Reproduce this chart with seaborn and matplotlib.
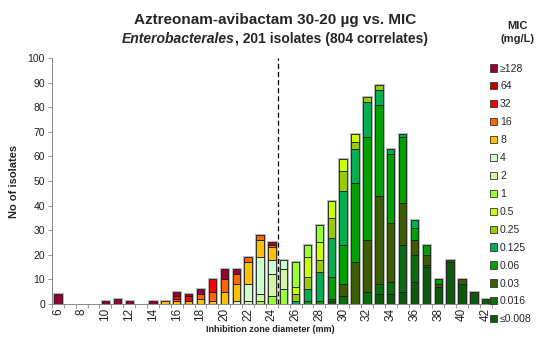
import matplotlib
matplotlib.use("Agg")
from matplotlib import pyplot as plt
from matplotlib.patches import Patch
import pandas as pd
import seaborn as sns

# zone diameters (mm), one bar each
diameters = [6, 7, 8, 9, 10, 11, 12, 13, 14, 15, 16, 17, 18, 19, 20, 21, 22, 23, 24,
             25, 26, 27, 28, 29, 30, 31, 32, 33, 34, 35, 36, 37, 38, 39, 40, 41, 42]

# counts per MIC (mg/L), index follows diameters
n_ge128 = [4, 0, 0, 0, 1, 2, 1, 0, 1, 0, 2, 0, 2, 0, 4, 2, 0, 0, 0, 0,
           0, 0, 0, 0, 0, 0, 0, 0, 0, 0, 0, 0, 0, 0, 0, 0, 0]
n_64 = [0, 0, 0, 0, 0, 0, 0, 0, 0, 0, 0, 1, 0, 0, 0, 0, 0, 0, 1, 0,
        0, 0, 0, 0, 0, 0, 0, 0, 0, 0, 0, 0, 0, 0, 0, 0, 0]
n_32 = [0, 0, 0, 0, 0, 0, 0, 0, 0, 0, 1, 2, 0, 5, 0, 0, 0, 0, 0, 0,
        0, 0, 0, 0, 0, 0, 0, 0, 0, 0, 0, 0, 0, 0, 0, 0, 0]
n_16 = [0, 0, 0, 0, 0, 0, 0, 0, 0, 0, 1, 0, 2, 4, 5, 4, 2, 2, 1, 0,
        0, 0, 0, 0, 0, 0, 0, 0, 0, 0, 0, 0, 0, 0, 0, 0, 0]
n_8 = [0, 0, 0, 0, 0, 0, 0, 0, 0, 1, 1, 1, 2, 1, 5, 7, 9, 7, 5, 0,
       0, 0, 0, 0, 0, 0, 0, 0, 0, 0, 0, 0, 0, 0, 0, 0, 0]
n_4 = [0, 0, 0, 0, 0, 0, 0, 0, 0, 0, 0, 0, 0, 0, 0, 1, 7, 15, 6, 4,
       0, 0, 0, 0, 0, 0, 0, 0, 0, 0, 0, 0, 0, 0, 0, 0, 0]
n_2 = [0, 0, 0, 0, 0, 0, 0, 0, 0, 0, 0, 0, 0, 0, 0, 0, 1, 3, 9, 8,
       0, 0, 0, 0, 0, 0, 0, 0, 0, 0, 0, 0, 0, 0, 0, 0, 0]
n_1 = [0, 0, 0, 0, 0, 0, 0, 0, 0, 0, 0, 0, 0, 0, 0, 0, 0, 1, 3, 6,
       10, 5, 7, 0, 0, 0, 0, 0, 0, 0, 0, 0, 0, 0, 0, 0, 0]
n_05 = [0, 0, 0, 0, 0, 0, 0, 0, 0, 0, 0, 0, 0, 0, 0, 0, 0, 0, 0, 0,
        3, 8, 7, 7, 5, 3, 0, 0, 0, 0, 0, 0, 0, 0, 0, 0, 0]
n_025 = [0, 0, 0, 0, 0, 0, 0, 0, 0, 0, 0, 0, 0, 0, 0, 0, 0, 0, 0, 0,
         3, 5, 5, 8, 8, 3, 2, 2, 0, 0, 0, 0, 0, 0, 0, 0, 0]
n_0125 = [0, 0, 0, 0, 0, 0, 0, 0, 0, 0, 0, 0, 0, 0, 0, 0, 0, 0, 0, 0,
          1, 5, 12, 16, 22, 14, 14, 6, 2, 1, 3, 0, 0, 0, 0, 0, 0]
n_006 = [0, 0, 0, 0, 0, 0, 0, 0, 0, 0, 0, 0, 0, 0, 0, 0, 0, 0, 0, 0,
         0, 1, 1, 9, 16, 32, 42, 37, 28, 27, 5, 4, 2, 0, 0, 0, 0]
n_003 = [0, 0, 0, 0, 0, 0, 0, 0, 0, 0, 0, 0, 0, 0, 0, 0, 0, 0, 0, 0,
         0, 0, 0, 1, 5, 17, 21, 36, 24, 17, 6, 4, 1, 1, 2, 0, 0]
n_0016 = [0, 0, 0, 0, 0, 0, 0, 0, 0, 0, 0, 0, 0, 0, 0, 0, 0, 0, 0, 0,
          0, 0, 0, 0, 3, 0, 5, 4, 5, 19, 11, 1, 0, 0, 0, 0, 0]
n_le0008 = [0, 0, 0, 0, 0, 0, 0, 0, 0, 0, 0, 0, 0, 0, 0, 0, 0, 0, 0, 0,
            0, 0, 0, 1, 0, 0, 0, 4, 4, 5, 9, 15, 7, 17, 8, 5, 2]

mic_labels = ['≥128', '64', '32', '16', '8', '4', '2', '1', '0.5', '0.25',
              '0.125', '0.06', '0.03', '0.016', '≤0.008']
mic_counts = [n_ge128, n_64, n_32, n_16, n_8, n_4, n_2, n_1, n_05, n_025,
              n_0125, n_006, n_003, n_0016, n_le0008]
mic_colors = ['#990033', '#c00000', '#ff0000', '#ff6600', '#ffc000', '#ccffcc',
              '#d6f5a8', '#99ff33', '#ccff00', '#99cc00', '#00b050', '#00a000',
              '#3d5e00', '#0a6e10', '#0a5a0a']

rows = []
for lab, counts in zip(mic_labels, mic_counts):
    for d, c in zip(diameters, counts):
        if c > 0:
            rows.append({'diameter': d, 'MIC': lab, 'count': c})
df = pd.DataFrame(rows)
totals = pd.DataFrame({'diameter': diameters,
                       'count': [sum(c) for c in zip(*mic_counts)]})

sns.set_style('white')
plt.rcParams['font.family'] = ['Liberation Sans', 'DejaVu Sans']

fig = plt.figure(figsize=(5.41, 3.38), dpi=100)
ax = fig.add_axes([0.096, 0.101, 0.813, 0.727])

# grey halo behind each bar, like the original
sns.histplot(totals, x='diameter', weights='count', discrete=True, shrink=0.62,
             color='white', edgecolor='#b8b8b8', linewidth=2.2, alpha=1, ax=ax)
sns.histplot(df, x='diameter', weights='count', hue='MIC', hue_order=mic_labels,
             palette=dict(zip(mic_labels, mic_colors)), multiple='stack',
             discrete=True, shrink=0.62, edgecolor='#1a1a1a', linewidth=0.6,
             alpha=1, legend=False, ax=ax)
for p in ax.patches:
    if p.get_height() == 0:
        p.set_visible(False)

ax.axvline(24.5, color='black', linestyle=(0, (4, 2.5)), linewidth=0.9)

ax.set_xlim(5.5, 42.5)
ax.set_ylim(0, 100)
ax.set_yticks(range(0, 101, 10))
ax.set_xticks(range(6, 43, 2))
ax.set_xticks([x + 0.5 for x in range(5, 43)], minor=True)
ax.tick_params(axis='x', which='major', length=0, labelrotation=90, labelsize=8.5,
               pad=3, labelcolor='#222222')
ax.tick_params(axis='x', which='minor', length=3, width=0.6, color='#888888',
               direction='out', bottom=True)
ax.tick_params(axis='y', length=3, width=0.6, color='#888888', labelsize=7.5,
               pad=2, labelcolor='#222222', left=True)
for s in ['top', 'right']:
    ax.spines[s].set_visible(False)
for s in ['left', 'bottom']:
    ax.spines[s].set_color('#888888')
    ax.spines[s].set_linewidth(0.7)
ax.set_xlabel('')
ax.set_ylabel('No of isolates', fontsize=8, fontweight='bold', labelpad=6)

fig.text(0.508, 0.94, 'Aztreonam-avibactam 30-20 µg vs. MIC', ha='center',
         va='center', fontsize=11, fontweight='bold')
t1 = fig.text(0, 0.884, 'Enterobacterales', ha='left', va='center', fontsize=10,
              fontweight='bold', style='italic')
t2 = fig.text(0, 0.884, ', 201 isolates (804 correlates)', ha='left', va='center',
              fontsize=10, fontweight='bold')
r = fig.canvas.get_renderer()
w1 = t1.get_window_extent(r).width
w2 = t2.get_window_extent(r).width
W = fig.get_figwidth() * fig.dpi
x0 = 0.508 * W - (w1 + w2) / 2
t1.set_x(x0 / W)
t2.set_x((x0 + w1) / W)

fig.text(0.499, 0.025, 'Inhibition zone diameter (mm)', ha='center', va='center',
         fontsize=6.5, fontweight='bold', color='#222222')

fig.text(0.957, 0.905, 'MIC\n(mg/L)', ha='center', va='center', fontsize=8,
         fontweight='bold', linespacing=1.35)
handles = [Patch(facecolor=c, edgecolor='#333333', linewidth=0.6, label=l)
           for l, c in zip(mic_labels, mic_colors)]
fig.legend(handles=handles, loc='upper left', bbox_to_anchor=(0.905, 0.812),
           frameon=False, fontsize=7.5, handlelength=0.7, handleheight=0.7,
           handletextpad=0.3, labelspacing=0.76, borderpad=0, borderaxespad=0)

fig.savefig('out.png', dpi=100)
